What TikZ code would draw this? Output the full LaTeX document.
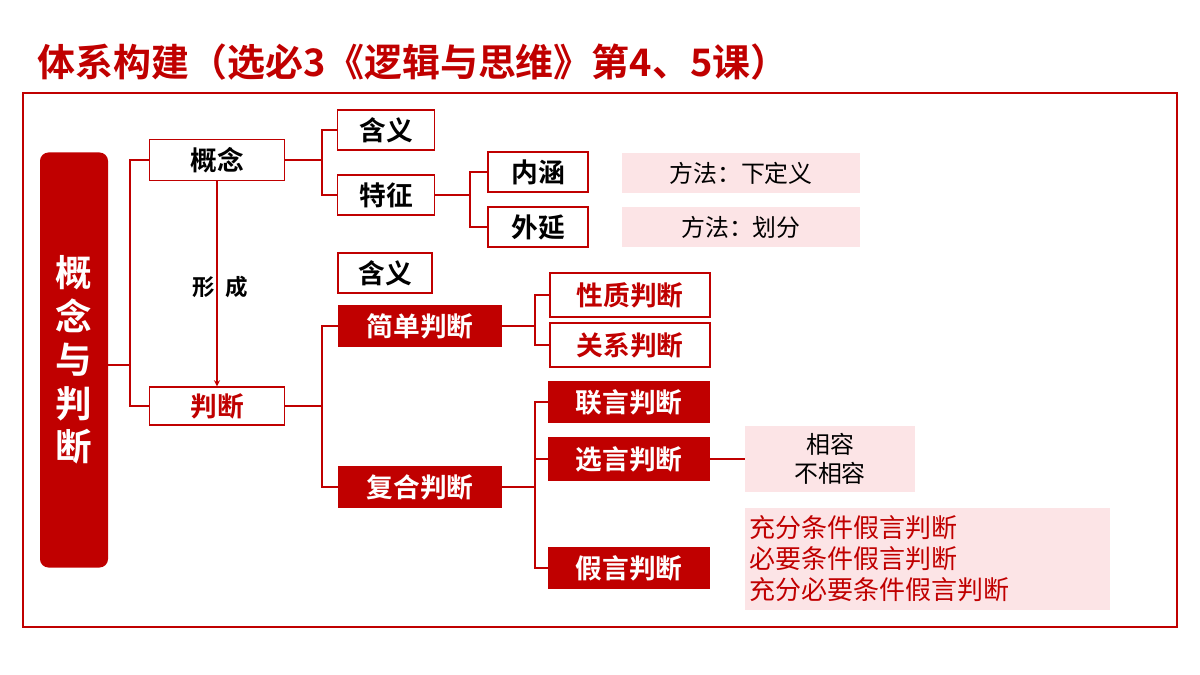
\documentclass[tikz,border=0pt]{standalone}
\usepackage{fontspec}
\setmainfont{Noto Sans CJK SC}
\newfontfamily\cjkb{Noto Sans CJK SC Bold}
\begin{document}
\begin{tikzpicture}[x=0.025cm,y=-0.025cm,
  wb/.style={draw=dred,line width=1pt,fill=white,font=\cjkb\fontsize{19}{19}\selectfont,inner sep=0pt},
  rb/.style={fill=dred,text=white,font=\cjkb\fontsize{19}{19}\selectfont,inner sep=0pt},
  pk/.style={fill=pinkb,font=\fontsize{17}{21}\selectfont,inner sep=0pt},
  ln/.style={draw=dred,line width=0.9pt}]
\definecolor{dred}{HTML}{C00000}
\definecolor{pinkb}{HTML}{FCE4E6}
\useasboundingbox (0,0) rectangle (1200,675);
\node[anchor=west,text=dred,font=\cjkb\fontsize{27}{27}\selectfont] (title) at (33,62) {体系构建（选必3《逻辑与思维》第4、5课）};
\draw[dred,line width=0.9pt] (23,93) rectangle (1177,627);
\node[rb,rounded corners=6pt,minimum width=68*0.025cm,minimum height=415*0.025cm,font=\cjkb\fontsize{26}{31}\selectfont,align=center] (root) at (74,360) {概\\念\\与\\判\\断};
\node[wb,minimum width=135*0.025cm,minimum height=41*0.025cm] (gn) at (217,160) {概念};
\node[wb,text=dred,minimum width=135*0.025cm,minimum height=38*0.025cm] (pd) at (217,406) {判断};
\draw[ln] (root.east |- 0,365) -- (130,365) coordinate (r1);
\draw[ln] (gn.west) -| (r1) |- (pd.west);
\draw[ln,->,>=stealth] (gn.south) -- (pd.north);
\node[font=\cjkb\fontsize{16}{16}\selectfont] (xc) at (220,287) {形\ \ 成};
\node[wb,minimum width=97*0.025cm,minimum height=40*0.025cm] (hy1) at (386,130) {含义};
\node[wb,minimum width=97*0.025cm,minimum height=40*0.025cm] (tz) at (386,195) {特征};
\draw[ln] (gn.east) -- (322,160) coordinate (c1);
\draw[ln] (hy1.west) -| (c1) |- (tz.west);
\node[wb,minimum width=100*0.025cm,minimum height=40*0.025cm] (nh) at (538,172) {内涵};
\node[wb,minimum width=100*0.025cm,minimum height=40*0.025cm] (wy) at (538,227) {外延};
\draw[ln] (tz.east) -- (470,195) coordinate (c2);
\draw[ln] (nh.west) -| (c2) |- (wy.west);
\node[pk,minimum width=238*0.025cm,minimum height=40*0.025cm] (f1) at (741,173) {方法：下定义};
\node[pk,minimum width=238*0.025cm,minimum height=40*0.025cm] (f2) at (741,227) {方法：划分};
\node[wb,minimum width=94*0.025cm,minimum height=40*0.025cm] (hy2) at (385,273) {含义};
\node[rb,minimum width=164*0.025cm,minimum height=42*0.025cm] (jd) at (420,326) {简单判断};
\node[rb,minimum width=164*0.025cm,minimum height=42*0.025cm] (fh) at (420,487) {复合判断};
\draw[ln] (pd.east) -- (322,406) coordinate (c3);
\draw[ln] (jd.west) -| (c3) |- (fh.west);
\node[wb,text=dred,minimum width=160*0.025cm,minimum height=44*0.025cm] (xz) at (630,295) {性质判断};
\node[wb,text=dred,minimum width=160*0.025cm,minimum height=44*0.025cm] (gx) at (630,345) {关系判断};
\draw[ln] (jd.east) -- (535,326) coordinate (c4);
\draw[ln] (xz.west) -| (c4) |- (gx.west);
\node[rb,minimum width=162*0.025cm,minimum height=42*0.025cm] (ly) at (629,402) {联言判断};
\node[rb,minimum width=162*0.025cm,minimum height=44*0.025cm] (xy) at (629,459) {选言判断};
\node[rb,minimum width=162*0.025cm,minimum height=42*0.025cm] (jy) at (629,568) {假言判断};
\draw[ln] (fh.east) -- (535,487) coordinate (c5);
\draw[ln] (ly.west) -| (c5) |- (jy.west);
\draw[ln] (xy.west) -- (c5 |- xy.west);
\node[pk,minimum width=170*0.025cm,minimum height=66*0.025cm,align=center] (xr) at (830,459) {相容\\不相容};
\draw[ln] (xy.east) -- (xr.west);
\node[pk,text=dred,minimum width=365*0.025cm,minimum height=102*0.025cm,align=left,text width=355*0.025cm,font=\fontsize{18.5}{22}\selectfont] (jt) at (927,559) {充分条件假言判断\\必要条件假言判断\\充分必要条件假言判断};
\end{tikzpicture}
\end{document}
